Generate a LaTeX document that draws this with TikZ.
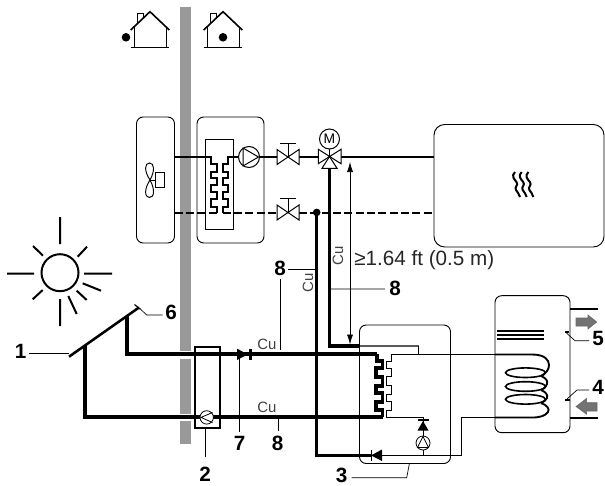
\documentclass[tikz,border=0pt]{standalone}
\usepackage{fontspec}
\setmainfont{Liberation Sans}
\usepackage{amsmath}
\usetikzlibrary{arrows.meta, positioning}
\definecolor{wallgray}{gray}{0.6}
\definecolor{arrowgray}{gray}{0.45}
\tikzset{
  pipe/.style={line width=1.5pt},
  dashpipe/.style={line width=1.5pt, dash pattern=on 6pt off 2.5pt},
  heavypipe/.style={line width=2.5pt},
  solarpipe/.style={line width=2.9pt},
  thinpipe/.style={line width=0.7pt},
  unitbox/.style={draw, line width=0.7pt, rounded corners=5pt},
  numlabel/.style={font=\bfseries\fontsize{15.5}{17}\selectfont, inner sep=0pt},
  culabel/.style={font=\fontsize{11.2}{13}\selectfont, inner sep=0pt, text=black!75},
  leader/.style={line width=0.5pt},
  symline/.style={line width=0.75pt},
}
% valvula de cierre
\newcommand{\gatevalve}[2]{%
  \draw[symline, fill=white] (#1-11,#2-7.5) -- (#1+11,#2+7.5) -- (#1+11,#2-7.5) -- (#1-11,#2+7.5) -- cycle;
  \draw[symline] (#1,#2) -- (#1,#2-14) (#1-8,#2-14) -- (#1+8,#2-14);
}
\begin{document}
\begin{tikzpicture}[x=0.75pt,y=-0.75pt]
  \useasboundingbox (0,0) rectangle (605,485);

  % Pared
  \fill[wallgray] (180,7) rectangle (191,351);
  \fill[wallgray] (180,358.5) rectangle (191,413.5);
  \fill[wallgray] (180,421) rectangle (191,444);

  % Casas
  \foreach \hx in {150,223} {
    \draw[line width=0.7pt] (\hx-12.5,24) -- (\hx-12.5,13) -- (\hx-6.5,13) -- (\hx-6.5,19);
    \draw[line width=1.2pt] (\hx-19.3,30) -- (\hx,11.7) -- (\hx+19.3,30);
    \draw[line width=0.7pt] (\hx-16,27) -- (\hx-16,47.7) (\hx+16,27) -- (\hx+16,47.7);
    \draw[line width=0.7pt] (\hx-19.3,47.7) -- (\hx+19.3,47.7);
  }
  \fill (126,37.3) circle (4.3);
  \fill (223,37.3) circle (4.3);

  % Sol
  \draw[line width=1.5pt] (60,272.7) circle (18.5);
  \draw[line width=1.5pt]
    (60,217) -- (60,244) (60,299) -- (60,326)
    (7,273.7) -- (34,273.7) (84,273.7) -- (112,273.7)
    (33,246) -- (43,255.7) (87,246.7) -- (77.7,256.7)
    (32.7,299.3) -- (42.7,290) (86.7,300) -- (76.7,290.7)
    (82.7,283.3) -- (101,290.7) (68.3,296) -- (76.7,314);

  % Unidades
  \draw[unitbox] (136.5,117) rectangle (174.5,243);
  \draw[unitbox] (197,117) rectangle (264,243);
  \draw[line width=0.7pt] (205.5,139.5) rectangle (233.5,229);
  \draw[unitbox, rounded corners=8pt] (434,124.5) rectangle (604,247);

  % Ventilador
  \draw[line width=0.7pt] (150,180) .. controls (144,171) and (144.5,163) .. (149.5,163)
    .. controls (154.5,163) and (155,171) .. (150,180)
    .. controls (144,189) and (144.5,197.5) .. (149.5,197.5)
    .. controls (154.5,197.5) and (155,189) .. (150,180);
  \draw[line width=0.7pt] (150,180) -- (155,180);
  \draw[line width=0.7pt] (155,172.7) rectangle (164.3,187.3);

  % Tuberias de refrigerante
  \draw[pipe] (174.5,157) -- (211,157) -- (211,163.5) -- (216.5,163.5) -- (216.5,171.7) -- (211,171.7)
    -- (211,178.3) -- (216.5,178.3) -- (216.5,185) -- (211,185) -- (211,191.7) -- (216.5,191.7) -- (216.5,199.3) -- (211,199.3)
    -- (211,206.7) -- (216.5,206.7) -- (216.5,212.5);
  \draw[pipe] (239,157) -- (228,157) -- (228,163.5) -- (222.5,163.5) -- (222.5,171.7) -- (228,171.7)
    -- (228,178.3) -- (222.5,178.3) -- (222.5,185) -- (228,185) -- (228,191.7) -- (222.5,191.7) -- (222.5,199.3) -- (228,199.3)
    -- (228,206.7) -- (222.5,206.7) -- (222.5,212.5);
  \draw[pipe] (259,157) -- (277,157);
  \draw[pipe] (299,157) -- (318,157);
  \draw[pipe] (341,157) -- (434,157);
  \draw[dashpipe] (174.5,212.5) -- (216.5,212.5);
  \draw[dashpipe] (222.5,212.5) -- (277,212.5);
  \draw[dashpipe] (299,212.5) -- (434,212.5);

  % Bomba y valvulas
  \draw[symline, fill=white] (249,157) circle (10.5);
  \draw[symline] (243,148) -- (258.5,157) -- (243,166) -- cycle;
  \gatevalve{288}{157}
  \gatevalve{288}{212.5}
  \draw[symline, fill=white] (318.3,149.3) -- (341,163.7) -- (341,149.3) -- (318.3,163.7) -- cycle;
  \draw[symline, fill=white] (329.5,156.5) -- (322,168.3) -- (337,168.3) -- cycle;
  \draw[symline] (329.5,149) -- (329.5,156.5);
  \node[draw, circle, line width=0.75pt, minimum size=15pt, inner sep=0pt, fill=white, font=\fontsize{10.4}{11}\selectfont] (motor) at (329.5,139) {M};

  % Simbolo de calefaccion
  \foreach \sx in {0,6.7,13.4} {
    \draw[line width=1.5pt] (515+\sx,172) .. controls (511+\sx,176) and (514+\sx,179) .. (516.5+\sx,182)
      .. controls (519+\sx,185) and (514+\sx,187) .. (516+\sx,190) .. controls (517+\sx,192) and (519.5+\sx,194) .. (520+\sx,197);
  }

  % Tuberias de cobre
  \fill (316.7,212.4) circle (3.8);
  \draw[heavypipe] (316.7,212.4) -- (316.7,455.4) -- (371,455.4);
  \draw[heavypipe] (329.4,168) -- (329.4,346) -- (360,346);
  \draw[line width=1pt, black!65] (360,346) -- (418.5,346);
  \draw[thinpipe] (418.5,346) -- (418.5,354.3);

  % Circuito solar
  \draw[line width=1.9pt] (69,356.7) -- (139,307.5);
  \draw[line width=0.9pt] (134.5,304.5) -- (140,309);
  \draw[solarpipe] (126.6,316) -- (126.6,354.4) -- (377,354.4);
  \draw[solarpipe] (84.8,346) -- (84.8,417.4) -- (200,417.4);
  \draw[solarpipe] (212,417.4) -- (382.5,417.4);
  \draw[line width=1.5pt] (195,346.7) rectangle (220,427.7);
  \draw[line width=0.6pt, fill=white] (206.7,417.4) circle (6.7);
  \draw[line width=0.6pt] (212.5,412.5) -- (201,417.4) -- (212.5,422.5);
  \fill (237,348.7) -- (248,354.4) -- (237,360) -- cycle;
  \fill (248.5,348.7) rectangle (251.5,360);

  % Intercambiador solar
  \draw[solarpipe] (377,354.4) -- (377,361) -- (382.5,361) -- (382.5,368) -- (376,368) -- (376,376.7) -- (382.5,376.7) -- (382.5,385.7) -- (376,385.7) -- (376,393) -- (382.5,393) -- (382.5,401.7) -- (376,401.7) -- (376,410) -- (382.5,410) -- (382.5,417.4);
  \draw[thinpipe] (495,354.3) -- (391.7,354.3) -- (391.7,361.7) -- (386.7,361.7) -- (386.7,368.3) -- (391.7,368.3) -- (391.7,376.7) -- (386.7,376.7) -- (386.7,385.7) -- (391.7,385.7) -- (391.7,394) -- (386.7,394) -- (386.7,401.7) -- (391.7,401.7) -- (391.7,410) -- (386.7,410) -- (386.7,417) -- (423,417);

  % Modulo solar
  \draw[unitbox] (359.5,325) rectangle (450.5,463.5);
  \draw[thinpipe] (423,417) -- (423,455.4);
  \draw[line width=0.6pt, fill=white] (423,443) circle (7);
  \draw[line width=0.6pt] (423,436.5) -- (417.5,447.5) -- (428.5,447.5) -- cycle;
  \fill (423,421) -- (417.5,430.5) -- (428.5,430.5) -- cycle;
  \draw[line width=1pt] (417.5,420) -- (428.5,420);
  \draw[thinpipe] (371,455.4) -- (461.7,455.4) -- (461.7,417.4) -- (495,417.4);
  \fill (371,455.4) -- (382,449.5) -- (382,461) -- cycle;
  \draw[line width=1pt] (371.5,449.5) -- (371.5,461);

  % Acumulador
  \draw[unitbox] (495,295.7) rectangle (570,432.7);
  \draw[line width=1pt] (497,331) -- (544,331) (497,335) -- (544,335) (497,339) -- (544,339);
  \draw[line width=1.4pt] (495,354.5) -- (532,354.5) .. controls (545,354.5) and (549,360) .. (549,365)
    .. controls (549,370) and (546,373) .. (541,376);
  \draw[line width=1.4pt] (541,376) .. controls (546,378) and (548,381) .. (547,384) .. controls (546,387) and (544,389) .. (541,390);
  \draw[line width=1.4pt] (541,390) .. controls (546,392) and (548,395) .. (547,398) .. controls (546,400) and (544,402) .. (541,403);
  \draw[line width=1.4pt] (541,403) .. controls (547,405) and (550,409) .. (548,412) .. controls (545,416) and (540,417.5) .. (532,417.5) -- (495,417.5);
  \foreach \ey in {372.7,386.5,399.3} {
    \draw[line width=1.2pt] (525.5,\ey) ellipse (20 and 4.8);
  }
  \draw[line width=1.6pt] (570,308.7) -- (597.7,308.7);
  \draw[line width=1.6pt] (570,418) -- (597.7,418);
  \draw[black!60, fill=arrowgray, line width=0.4pt] (576,318) -- (588,318) -- (588,315) -- (596.7,322) -- (588,329) -- (588,326) -- (576,326) -- cycle;
  \draw[black!60, fill=arrowgray, line width=0.4pt] (597,402.7) -- (586.7,402.7) -- (586.7,398.3) -- (576,406.5) -- (586.7,414.3) -- (586.7,411) -- (597,411) -- cycle;

  % Cota
  \draw[line width=0.5pt, {Latex[length=7.5pt,width=4.5pt]}-{Latex[length=7.5pt,width=4.5pt]}] (350,162) -- (350,344.5);
  \node[anchor=west, inner sep=0pt, text=black!85, font=\fontsize{15.5}{17}\selectfont] (dimtxt) at (354,260) {≥1.64 ft (0.5 m)};

  % Etiquetas
  \node[culabel] (cua) at (267,344) {Cu};
  \node[culabel] (cub) at (267,407) {Cu};
  \node[culabel, rotate=90] (cuc) at (308,283) {Cu};
  \node[culabel, rotate=90] (cud) at (338,256) {Cu};

  \node[numlabel] (num1) at (20.7,351.7) {1};
  \node[numlabel] (num2) at (205,474.5) {2};
  \node[numlabel] (num3) at (341.7,475) {3};
  \node[numlabel, anchor=east] (num4) at (604,387) {4};
  \node[numlabel, anchor=east] (num5) at (604,338) {5};
  \node[numlabel] (num6) at (171,312.5) {6};
  \node[numlabel] (num7) at (239.5,443.5) {7};
  \node[numlabel] (num8a) at (280,268.3) {8};
  \node[numlabel] (num8b) at (395,288.3) {8};
  \node[numlabel] (num8c) at (277.7,443.7) {8};

  % Lineas de referencia
  \draw[leader] (num1) ++(8.6,1.6) -- (68.5,353.3);
  \draw[leader] (num2) ++(0,-17.5) -- (205,428);
  \draw[leader] (num3) ++(10,2.7) -- (406.7,477.7) -- (409.3,464);
  \draw[leader] (num6) ++(-8.5,2.5) -- (146.7,315) -- (139.3,308);
  \draw[leader] (num7) ++(0,-12) -- (239.5,354);
  \draw[leader] (num8a) ++(8,1) -- (316.7,269.3);
  \draw[leader] (num8a) ++(0,11) -- (280,350);
  \draw[leader] (num8b) ++(-10,0.7) -- (329.4,289);
  \draw[leader] (num8c) ++(0.6,-12.5) -- (278.3,419);
  \draw[leader] (num4) ++(-9,3) -- (577,390) -- (567,399);
  \draw[leader] (num5) ++(-9,2.7) -- (575,340.7) -- (565,331.7);
  \fill (565,330.5) rectangle (569,332.5);
  \fill (565,398.5) rectangle (570,401);
\end{tikzpicture}
\end{document}
